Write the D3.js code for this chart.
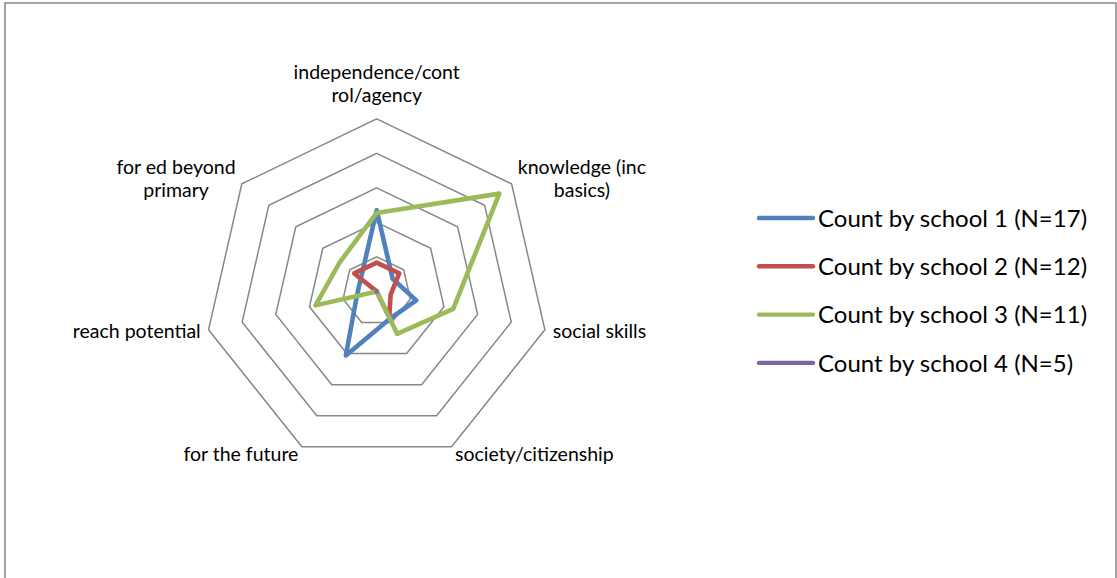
<!DOCTYPE html>
<html>
<head>
<meta charset="utf-8">
<script src="https://cdn.jsdelivr.net/npm/d3@7"></script>
<style>
  body { margin: 0; background: #fff; }
  svg { display: block; }
  .axis-label { font-family: Lato, 'Open Sans', sans-serif; font-size: 19.5px; fill: #000; }
  .legend { font-family: Lato, 'Open Sans', sans-serif; font-size: 24px; fill: #000; }
</style>
</head>
<body>
<div id="radar_chart"></div>
<script>
// categories, clockwise from the top
var categories = ['independence/control/agency', 'knowledge (inc basics)', 'social skills',
  'society/citizenship', 'for the future', 'reach potential', 'for ed beyond primary'];

// how each category label wraps on the chart
var categoryLines = [
  ['independence/cont', 'rol/agency'],
  ['knowledge (inc', 'basics)'],
  ['social skills'],
  ['society/citizenship'],
  ['for the future'],
  ['reach potential'],
  ['for ed beyond', 'primary']
];

var seriesNames = ['Count by school 1 (N=17)', 'Count by school 2 (N=12)',
  'Count by school 3 (N=11)', 'Count by school 4 (N=5)'];

// percentage of each school's answers per category
var school1 = [47.1, 11.8, 23.5, 17.6, 41.2, 11.8, 11.8];
var school2 = [16.7, 16.7, 8.3, 16.7, 0, 0, 16.7];
var school3 = [45.5, 90.9, 45.5, 27.3, 0, 36.4, 27.3];
var school4 = [0, 0, 0, 0, 0, 0, 0];

var ringTicks = [20, 40, 60, 80, 100];

var seriesColors = ['#4f81bd', '#c0504d', '#9bbb59', '#8064a2'];

var width = 1117;
var height = 578;
var cx = 376.7;
var cy = 291.4;
var radius = 172.5;

var series = [school1, school2, school3, school4];

var svg = d3.select('#radar_chart').append('svg')
  .attr('width', width)
  .attr('height', height);

// chart border
svg.append('rect')
  .attr('x', 5)
  .attr('y', 3)
  .attr('width', 1111)
  .attr('height', 620)
  .attr('fill', 'none')
  .attr('stroke', '#8c8c8c')
  .attr('stroke-width', 1.6);

var rScale = d3.scaleLinear()
  .domain([0, 100])
  .range([0, radius]);

var angleScale = d3.scaleLinear()
  .domain([0, categories.length])
  .range([0, 2 * Math.PI]);

var plot = svg.append('g')
  .attr('transform', 'translate(' + cx + ',' + cy + ')');

var radial = d3.lineRadial()
  .angle(function(d, i) { return angleScale(i); })
  .radius(function(d) { return rScale(d); })
  .curve(d3.curveLinearClosed);

// gridline rings
plot.selectAll('.ring')
  .data(ringTicks)
  .enter()
  .append('path')
  .attr('class', 'ring')
  .attr('d', function(t) {
    return radial(categories.map(function() { return t; }));
  })
  .attr('fill', 'none')
  .attr('stroke', '#878787')
  .attr('stroke-width', 1.5);

// series lines
plot.selectAll('.series')
  .data(series)
  .enter()
  .append('path')
  .attr('class', 'series')
  .attr('d', radial)
  .attr('fill', 'none')
  .attr('stroke', function(d, i) { return seriesColors[i]; })
  .attr('stroke-width', 4.6)
  .attr('stroke-linejoin', 'round')
  .attr('stroke-linecap', 'round');

// category labels
var lineHeight = 23;
var pad = 8;
var fontSize = 19.5;

categoryLines.forEach(function(lines, i) {
  var a = angleScale(i);
  var sx = Math.sin(a);
  var sy = -Math.cos(a);
  var px = sx * (radius + pad);
  var py = sy * (radius + pad);

  var label = plot.append('text')
    .attr('class', 'axis-label')
    .attr('text-anchor', 'middle');

  label.selectAll('tspan')
    .data(lines)
    .enter()
    .append('tspan')
    .attr('x', 0)
    .attr('y', function(d, j) { return j * lineHeight; })
    .text(function(d) { return d; });

  var blockW = d3.max(label.selectAll('tspan').nodes(), function(n) {
    return n.getComputedTextLength();
  });
  var blockH = lines.length * lineHeight;

  var tx, ty;
  if (Math.abs(sx) < 0.1) {
    tx = px;
    ty = py - blockH + lineHeight - 0.3 * fontSize - 3.5;
  } else {
    tx = sx > 0 ? px + blockW / 2 : px - blockW / 2;
    ty = py - (lines.length - 1) * lineHeight / 2 + 0.35 * fontSize;
  }
  label.attr('transform', 'translate(' + tx + ',' + ty + ')');
});

// legend
var legend = svg.append('g')
  .attr('transform', 'translate(759,218)')
  .selectAll('g')
  .data(seriesNames)
  .enter()
  .append('g')
  .attr('transform', function(d, i) {
    return 'translate(0,' + i * 48.3 + ')';
  });

legend.append('line')
  .attr('x1', 0)
  .attr('x2', 54)
  .attr('y1', 0)
  .attr('y2', 0)
  .attr('stroke', function(d, i) { return seriesColors[i]; })
  .attr('stroke-width', 4.4)
  .attr('stroke-linecap', 'round');

legend.append('text')
  .attr('class', 'legend')
  .attr('x', 59)
  .attr('y', 0)
  .attr('dy', '0.36em')
  .text(function(d) { return d; });
</script>
</body>
</html>
